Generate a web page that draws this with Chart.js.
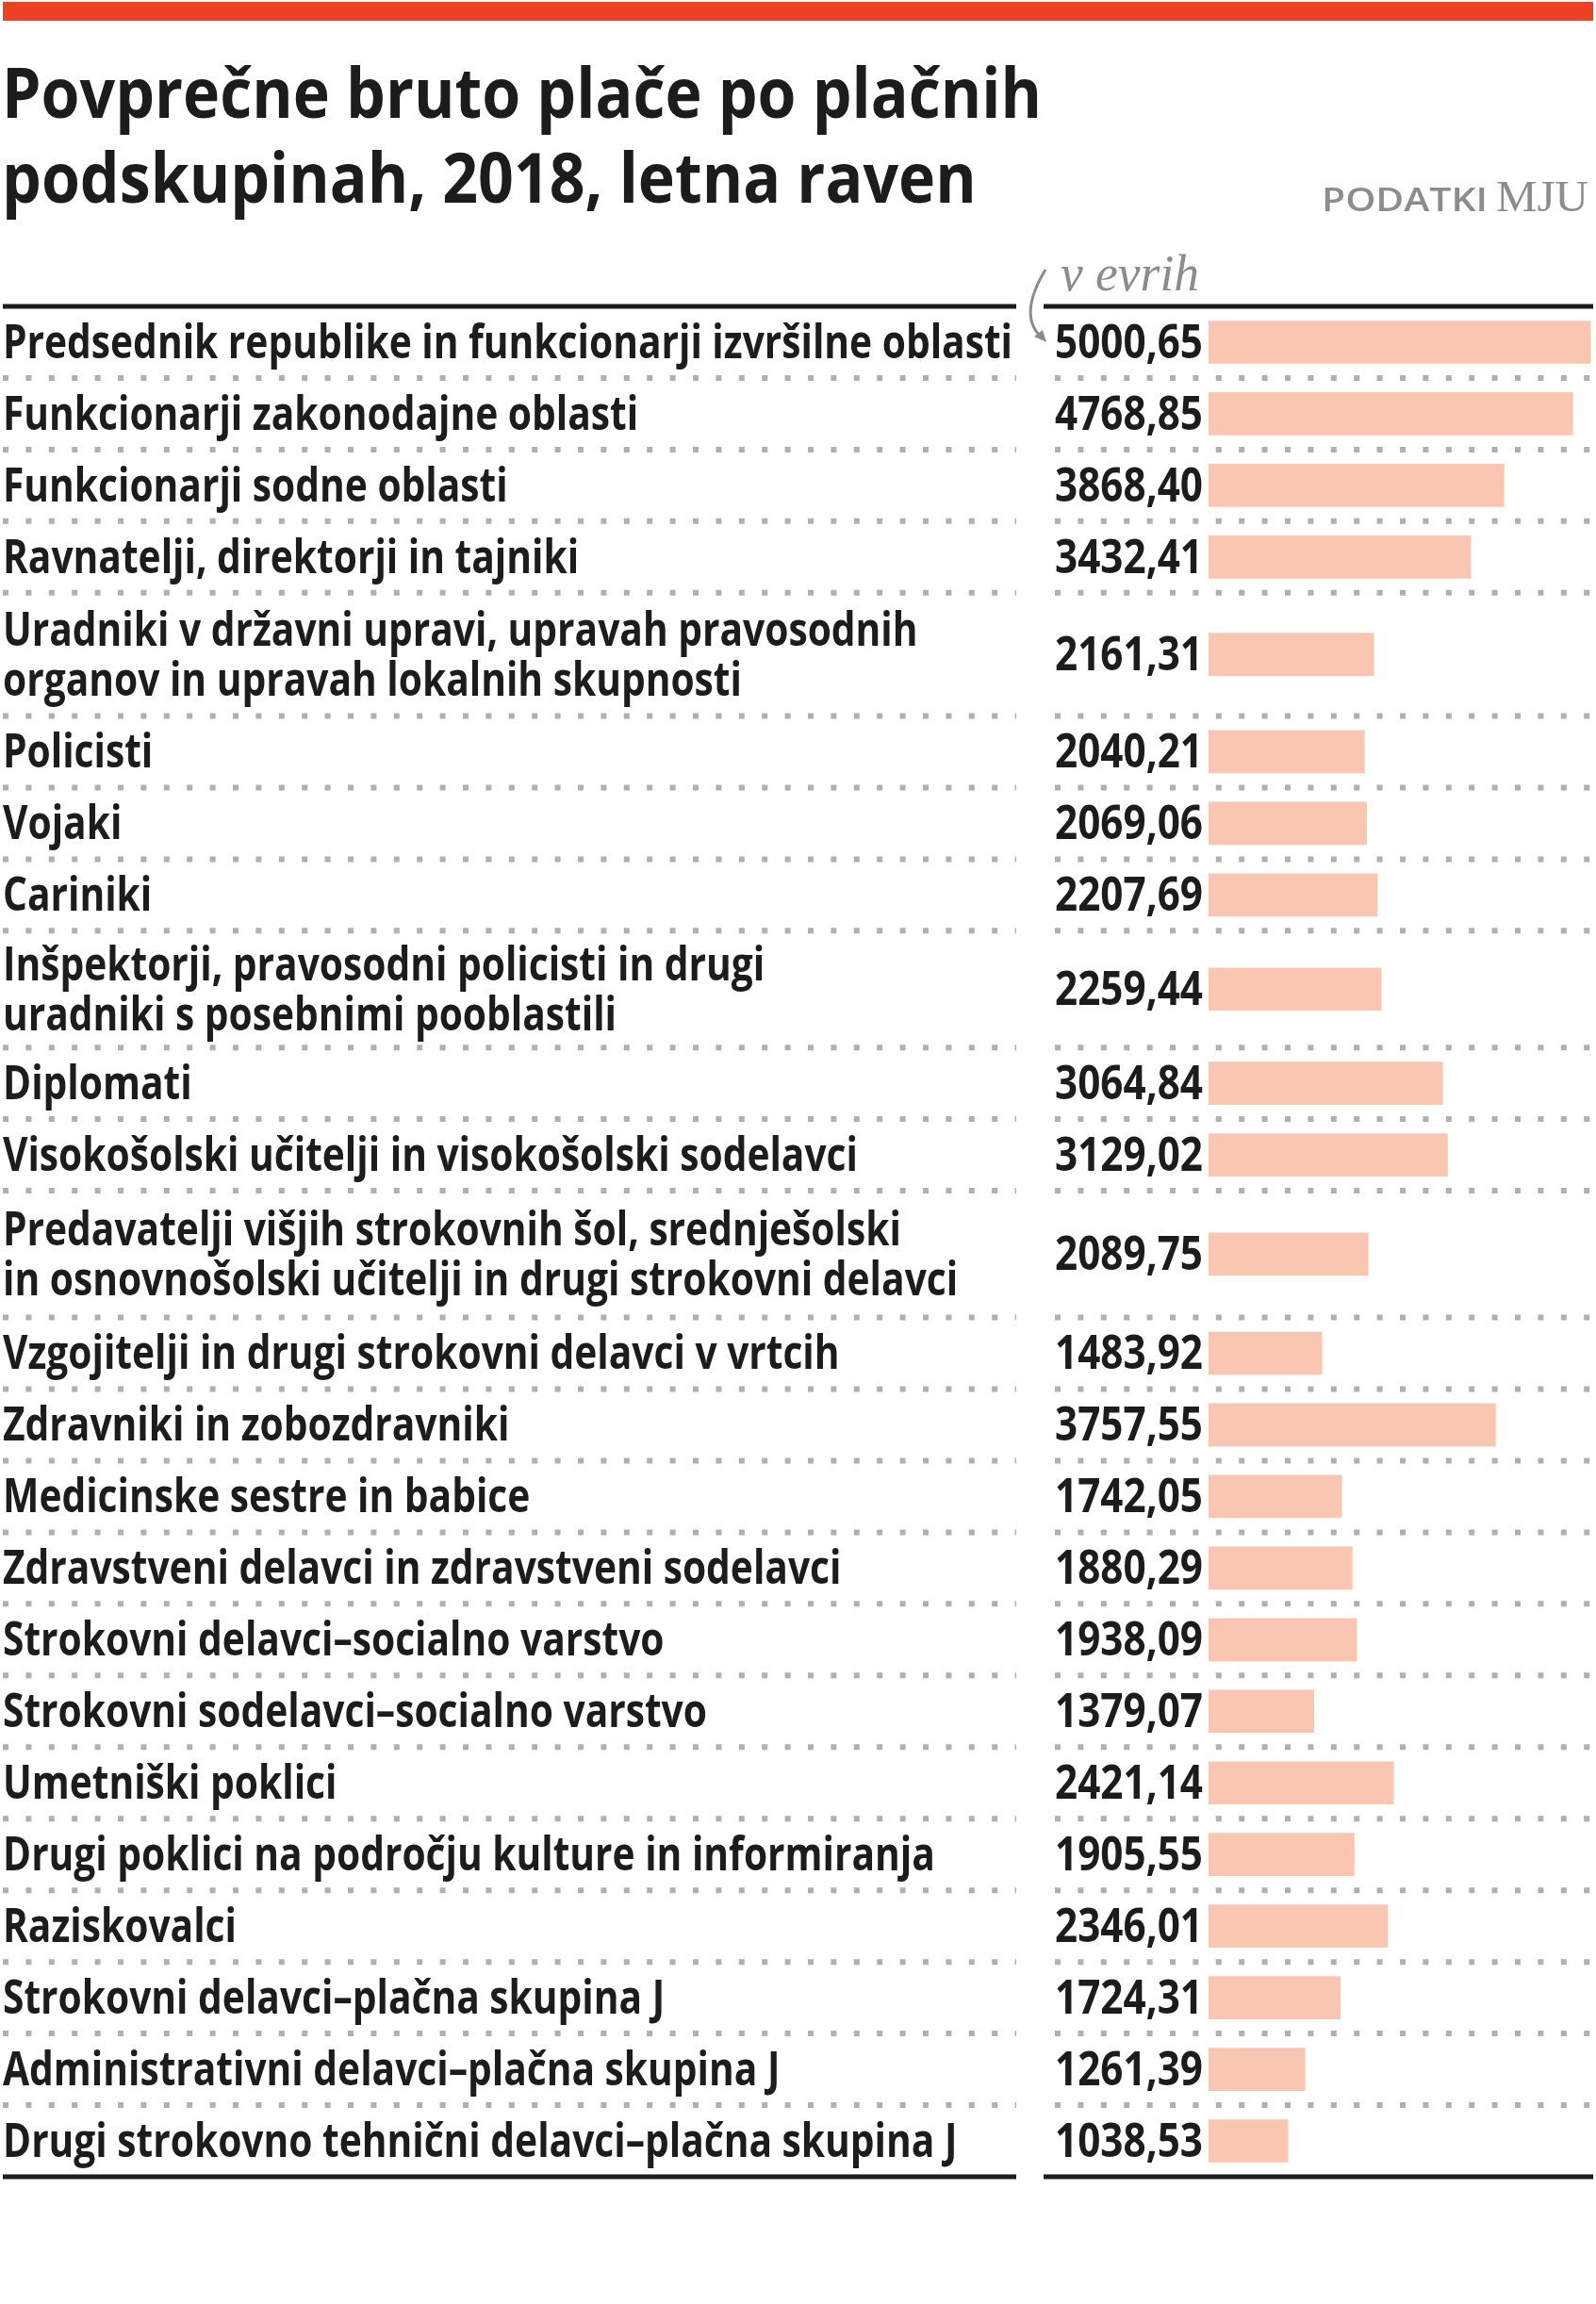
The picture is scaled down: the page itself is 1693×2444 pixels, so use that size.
<!DOCTYPE html>
<html>
<head>
<meta charset="utf-8">
<script src="https://cdn.jsdelivr.net/npm/chart.js@4/dist/chart.umd.min.js"></script>
<style>
  html, body { margin: 0; padding: 0; background: #fff; }
  canvas { display: block; }
</style>
</head>
<body>
<canvas id="chart" width="1693" height="2444"></canvas>
<script>
// Data
const TITLE_LINES = ['Povprečne bruto plače po plačnih', 'podskupinah, 2018, letna raven'];
const SOURCE_LABEL = 'PODATKI';
const SOURCE_NAME = 'MJU';
const UNIT_LABEL = 'v evrih';

const CATEGORIES = [
    'Predsednik republike in funkcionarji izvršilne oblasti',
    'Funkcionarji zakonodajne oblasti',
    'Funkcionarji sodne oblasti',
    'Ravnatelji, direktorji in tajniki',
    'Uradniki v državni upravi, upravah pravosodnih\norganov in upravah lokalnih skupnosti',
    'Policisti',
    'Vojaki',
    'Cariniki',
    'Inšpektorji, pravosodni policisti in drugi\nuradniki s posebnimi pooblastili',
    'Diplomati',
    'Visokošolski učitelji in visokošolski sodelavci',
    'Predavatelji višjih strokovnih šol, srednješolski\nin osnovnošolski učitelji in drugi strokovni delavci',
    'Vzgojitelji in drugi strokovni delavci v vrtcih',
    'Zdravniki in zobozdravniki',
    'Medicinske sestre in babice',
    'Zdravstveni delavci in zdravstveni sodelavci',
    'Strokovni delavci–socialno varstvo',
    'Strokovni sodelavci–socialno varstvo',
    'Umetniški poklici',
    'Drugi poklici na področju kulture in informiranja',
    'Raziskovalci',
    'Strokovni delavci–plačna skupina J',
    'Administrativni delavci–plačna skupina J',
    'Drugi strokovno tehnični delavci–plačna skupina J'
];

const SALARIES = [
    5000.65, 4768.85, 3868.40, 3432.41, 2161.31, 2040.21, 2069.06, 2207.69,
    2259.44, 3064.84, 3129.02, 2089.75, 1483.92, 3757.55, 1742.05, 1880.29,
    1938.09, 1379.07, 2421.14, 1905.55, 2346.01, 1724.31, 1261.39, 1038.53
];

// Layout / style
const W = 1693, H = 2444;
const RED = '#ec4124';
const BAR_COLOR = '#f8c6b1';
const INK = '#1c1c1c';
const GREY = '#8c8c8c';
const DOT_GREY = '#b0b0b0';
// heights of the wrapped (two-line) rows, in single-row units, top to bottom
const WRAPPED_ROW_HEIGHTS = [1.72, 1.63, 1.77];

const LEFT_COL = [3, 1078];
const RIGHT_COL = [1107, 1690];
const VALUE_RIGHT = 1276;

// row positions on the y scale (in row units), wrapped labels get taller rows
const rowLines = CATEGORIES.map(c => c.split('\n'));
let wrapIdx = 0;
const rowHeights = rowLines.map(l => l.length > 1 ? WRAPPED_ROW_HEIGHTS[wrapIdx++] : 1);
const rowCenters = [];
const rowEdges = [0];
rowHeights.reduce((acc, h) => {
    rowCenters.push(acc + h / 2);
    rowEdges.push(acc + h);
    return acc + h;
}, 0);
const totalUnits = rowEdges[rowEdges.length - 1];

function fmt(v) {
    return v.toFixed(2).replace('.', ',');
}

// draw text squeezed horizontally (no condensed fonts around)
function squeezed(ctx, str, x, y, font, color, sx, align) {
    ctx.save();
    ctx.font = font;
    ctx.fillStyle = color;
    ctx.textAlign = align || 'left';
    ctx.textBaseline = 'alphabetic';
    ctx.translate(x, y);
    ctx.scale(sx, 1);
    ctx.fillText(str, 0, 0);
    ctx.restore();
}

function fitScale(ctx, str, font, width) {
    ctx.save();
    ctx.font = font;
    const w = ctx.measureText(str).width;
    ctx.restore();
    return width / w;
}

function hLine(ctx, x0, x1, y, width, color, dash) {
    ctx.save();
    ctx.beginPath();
    ctx.strokeStyle = color;
    ctx.lineWidth = width;
    if (dash) ctx.setLineDash(dash);
    ctx.moveTo(x0, y);
    ctx.lineTo(x1, y);
    ctx.stroke();
    ctx.restore();
}

const tablePlugin = {
    id: 'table',
    beforeDraw(chart) {
        const ctx = chart.ctx;
        ctx.save();
        ctx.fillStyle = '#fff';
        ctx.fillRect(0, 0, W, H);
        ctx.restore();
    },
    afterDraw(chart) {
        const ctx = chart.ctx;
        const yScale = chart.scales.y;

        // top red band
        ctx.fillStyle = RED;
        ctx.fillRect(3, 2, 1687, 20);

        // title
        const titleFont = '700 74px "Open Sans"';
        const tsx = fitScale(ctx, TITLE_LINES[0], titleFont, 1103);
        squeezed(ctx, TITLE_LINES[0], 2, 125, titleFont, INK, tsx);
        squeezed(ctx, TITLE_LINES[1], 2, 215, titleFont, INK, tsx);

        // source
        const srcFont = '600 34px "Open Sans"';
        const ssx = fitScale(ctx, SOURCE_LABEL, srcFont, 176);
        squeezed(ctx, SOURCE_LABEL, 1402, 224, srcFont, GREY, ssx);
        const mjuFont = '46px "Liberation Serif"';
        const msx = fitScale(ctx, SOURCE_NAME, mjuFont, 98);
        squeezed(ctx, SOURCE_NAME, 1587, 224, mjuFont, GREY, msx);

        // unit note with curved arrow
        const unitFont = 'italic 54px "Liberation Serif"';
        const usx = fitScale(ctx, UNIT_LABEL, unitFont, 147);
        squeezed(ctx, UNIT_LABEL, 1125, 308, unitFont, GREY, usx);
        ctx.save();
        ctx.strokeStyle = GREY;
        ctx.fillStyle = GREY;
        ctx.lineWidth = 3;
        ctx.beginPath();
        ctx.moveTo(1109, 286);
        ctx.quadraticCurveTo(1080, 334, 1104, 357);
        ctx.stroke();
        ctx.beginPath();
        ctx.moveTo(1110, 363);
        ctx.lineTo(1097, 357);
        ctx.lineTo(1106, 350);
        ctx.closePath();
        ctx.fill();
        ctx.restore();

        // header and footer rules
        const top = yScale.getPixelForValue(0);
        const bottom = yScale.getPixelForValue(totalUnits);
        [top, bottom].forEach(y => {
            hLine(ctx, LEFT_COL[0], LEFT_COL[1], y, 5, INK);
            hLine(ctx, RIGHT_COL[0], RIGHT_COL[1], y, 5, INK);
        });

        // dotted separators between rows
        rowEdges.slice(1, -1).forEach(e => {
            const y = yScale.getPixelForValue(e);
            hLine(ctx, LEFT_COL[0], LEFT_COL[1], y, 6, DOT_GREY, [6, 18.4]);
            hLine(ctx, RIGHT_COL[0] + 12, RIGHT_COL[1], y, 6, DOT_GREY, [6, 18.4]);
        });

        // category labels and values
        const labelFont = '700 50px "Open Sans"';
        const lsx = fitScale(ctx, rowLines[0][0], labelFont, 1071);
        const valFont = '700 50px "Open Sans"';
        const vsx = fitScale(ctx, fmt(SALARIES[0]), valFont, 157);
        rowLines.forEach((lines, i) => {
            const cy = yScale.getPixelForValue(rowCenters[i]);
            const base = cy + 17;
            if (lines.length === 1) {
                squeezed(ctx, lines[0], 3, base, labelFont, INK, lsx);
            } else {
                squeezed(ctx, lines[0], 3, base - 26.5, labelFont, INK, lsx);
                squeezed(ctx, lines[1], 3, base + 26.5, labelFont, INK, lsx);
            }
            squeezed(ctx, fmt(SALARIES[i]), VALUE_RIGHT, base, valFont, INK, vsx, 'right');
        });
    }
};

const points = SALARIES.map((v, i) => ({ x: v, y: rowCenters[i] }));

new Chart(document.getElementById('chart').getContext('2d'), {
    type: 'bar',
    data: {
        datasets: [{
            data: points,
            backgroundColor: BAR_COLOR,
            borderWidth: 0,
            barThickness: 45
        }]
    },
    options: {
        indexAxis: 'y',
        responsive: false,
        animation: false,
        devicePixelRatio: 1,
        layout: { padding: { left: 1282, right: 3, top: 325, bottom: 135 } },
        scales: {
            x: { type: 'linear', min: 0, max: 5037, display: false },
            y: { type: 'linear', min: 0, max: totalUnits, reverse: true, offset: false, display: false }
        },
        plugins: {
            legend: { display: false },
            tooltip: { enabled: false }
        }
    },
    plugins: [tablePlugin]
});
</script>
</body>
</html>
